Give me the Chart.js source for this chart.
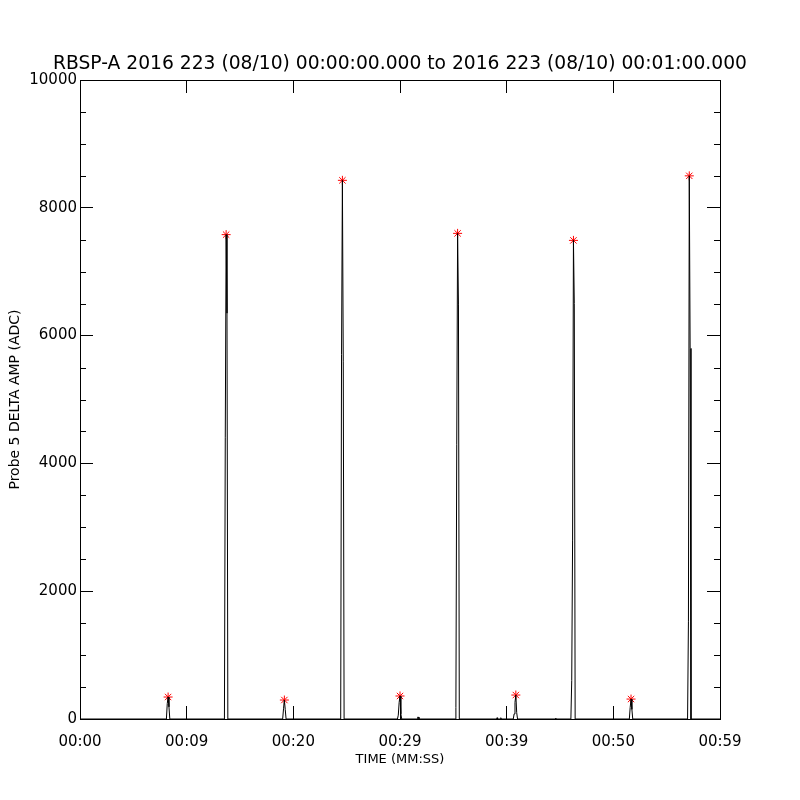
<!DOCTYPE html>
<html>
<head>
<meta charset="utf-8">
<script src="https://cdn.jsdelivr.net/npm/chart.js@4/dist/chart.umd.min.js"></script>
<style>
	html, body { margin: 0; padding: 0; background: #fff; }
	canvas { display: block; }
</style>
</head>
<body>
<canvas id="chart-probe" width="800" height="800"></canvas>
<script>
// seconds after 00:00:00 and probe amplitude (ADC)
const times = [
	0,
	8.10, 8.18, 8.26, 8.34, 8.42,
	13.54, 13.62, 13.70, 13.78, 13.86,
	19.00, 19.08, 19.16, 19.24, 19.32,
	24.44, 24.52, 24.60, 24.68, 24.76,
	29.76, 29.84, 29.92, 30.00, 30.08, 30.16,
	31.60, 31.66, 31.72, 31.78,
	35.16, 35.24, 35.32, 35.40, 35.48, 35.56,
	39.05, 39.10, 39.15,
	39.40, 39.45, 39.50,
	40.62, 40.70, 40.78, 40.86, 40.94, 41.02,
	44.55, 44.60, 44.65,
	46.02, 46.10, 46.18, 46.26, 46.34, 46.42,
	51.50, 51.58, 51.66, 51.74, 51.82,
	56.96, 57.04, 57.12, 57.20, 57.28,
	60
];

const amps = [
	0,
	0, 240, 344, 190, 0,
	0, 4400, 7580, 6350, 0,
	0, 160, 297, 150, 0,
	0, 5700, 8430, 5600, 0,
	0, 60, 260, 360, 80, 0,
	0, 30, 30, 0,
	0, 180, 4300, 7600, 6480, 0,
	0, 20, 0,
	0, 20, 0,
	0, 80, 260, 375, 100, 0,
	0, 15, 0,
	0, 600, 2800, 7490, 6500, 0,
	0, 180, 312, 150, 0,
	0, 1520, 8500, 5800, 0,
	0
];

// red asterisks at each peak
const peakTimes = [8.26, 13.70, 19.16, 24.60, 30.00, 35.40, 40.86, 46.26, 51.66, 57.12];
const peakAmps = [344, 7580, 297, 8430, 360, 7600, 375, 7490, 312, 8500];

const timeLabels = ['00:00', '00:09', '00:20', '00:29', '00:39', '00:50', '00:59'];

const titleText = 'RBSP-A 2016 223 (08/10) 00:00:00.000 to 2016 223 (08/10) 00:01:00.000';

const tickFont = { family: 'DejaVu Sans', size: 15 };

// minor ticks every 500 on both y axes
const minorTicks = {
	id: 'minorTicks',
	afterDraw(chart) {
		const { ctx, chartArea, scales } = chart;
		ctx.save();
		ctx.strokeStyle = '#000';
		ctx.lineWidth = 1;
		ctx.beginPath();
		for (let v = 500; v < 10000; v += 500) {
			if (v % 2000 === 0) continue;
			const y = Math.round(scales.y.getPixelForValue(v)) + 0.5;
			ctx.moveTo(chartArea.left, y);
			ctx.lineTo(chartArea.left + 6, y);
			ctx.moveTo(chartArea.right, y);
			ctx.lineTo(chartArea.right - 6, y);
		}
		ctx.stroke();
		ctx.restore();
	}
};

const data = {
	datasets: [
		{
			label: 'amp',
			data: times.map((t, i) => ({ x: t, y: amps[i] })),
			borderColor: '#000',
			borderWidth: 1,
			pointRadius: 0,
			fill: false,
			tension: 0
		},
		{
			label: 'peaks',
			data: peakTimes.map((t, i) => ({ x: t, y: peakAmps[i] })),
			showLine: false,
			pointStyle: 'star',
			pointRadius: 4.5,
			pointBorderWidth: 1,
			borderColor: '#ff0000',
			backgroundColor: '#ff0000'
		}
	]
};

const config = {
	type: 'line',
	data: data,
	plugins: [minorTicks],
	options: {
		responsive: false,
		animation: false,
		devicePixelRatio: 1,
		layout: { padding: 0 },
		plugins: {
			legend: { display: false },
			tooltip: { enabled: false },
			title: {
				display: true,
				text: titleText,
				color: '#000',
				font: { family: 'DejaVu Sans', size: 18.7, weight: 'normal', lineHeight: 1.2 },
				padding: { top: 53, bottom: 0 }
			}
		},
		scales: {
			x: {
				type: 'linear',
				position: 'bottom',
				min: 0,
				max: 60,
				border: { color: '#000', width: 1 },
				grid: { drawOnChartArea: false, tickLength: -13, color: '#000' },
				ticks: {
					stepSize: 10,
					padding: 27,
					color: '#000',
					font: tickFont,
					maxRotation: 0,
					callback: (v, i) => timeLabels[i]
				},
				title: {
					display: true,
					text: 'TIME (MM:SS)',
					color: '#000',
					font: { family: 'DejaVu Sans', size: 13 },
					padding: { top: 0, bottom: 33 }
				},
				afterFit: s => { s.height = 81; }
			},
			xTop: {
				type: 'linear',
				position: 'top',
				min: 0,
				max: 60,
				border: { color: '#000', width: 1 },
				grid: { drawOnChartArea: false, tickLength: -13, color: '#000' },
				ticks: { stepSize: 10, display: false },
				afterFit: s => { s.height = 80 - (53 + 18.7 * 1.2); }
			},
			y: {
				position: 'left',
				min: 0,
				max: 10000,
				border: { color: '#000', width: 1 },
				grid: { drawOnChartArea: false, tickLength: -13, color: '#000' },
				ticks: {
					stepSize: 2000,
					padding: 16,
					color: '#000',
					font: tickFont,
					callback: v => String(v)
				},
				title: {
					display: true,
					text: 'Probe 5 DELTA AMP (ADC)',
					color: '#000',
					font: { family: 'DejaVu Sans', size: 14 },
					padding: { top: 7, bottom: 0 }
				},
				afterFit: s => { s.width = 80; }
			},
			yRight: {
				position: 'right',
				min: 0,
				max: 10000,
				border: { color: '#000', width: 1 },
				grid: { drawOnChartArea: false, tickLength: -13, color: '#000' },
				ticks: { stepSize: 2000, display: false },
				afterFit: s => { s.width = 80; }
			}
		}
	}
};

document.addEventListener('DOMContentLoaded', () => {
	const ctx = document.getElementById('chart-probe');
	const chartProbe = new Chart(ctx, config);
});
</script>
</body>
</html>
